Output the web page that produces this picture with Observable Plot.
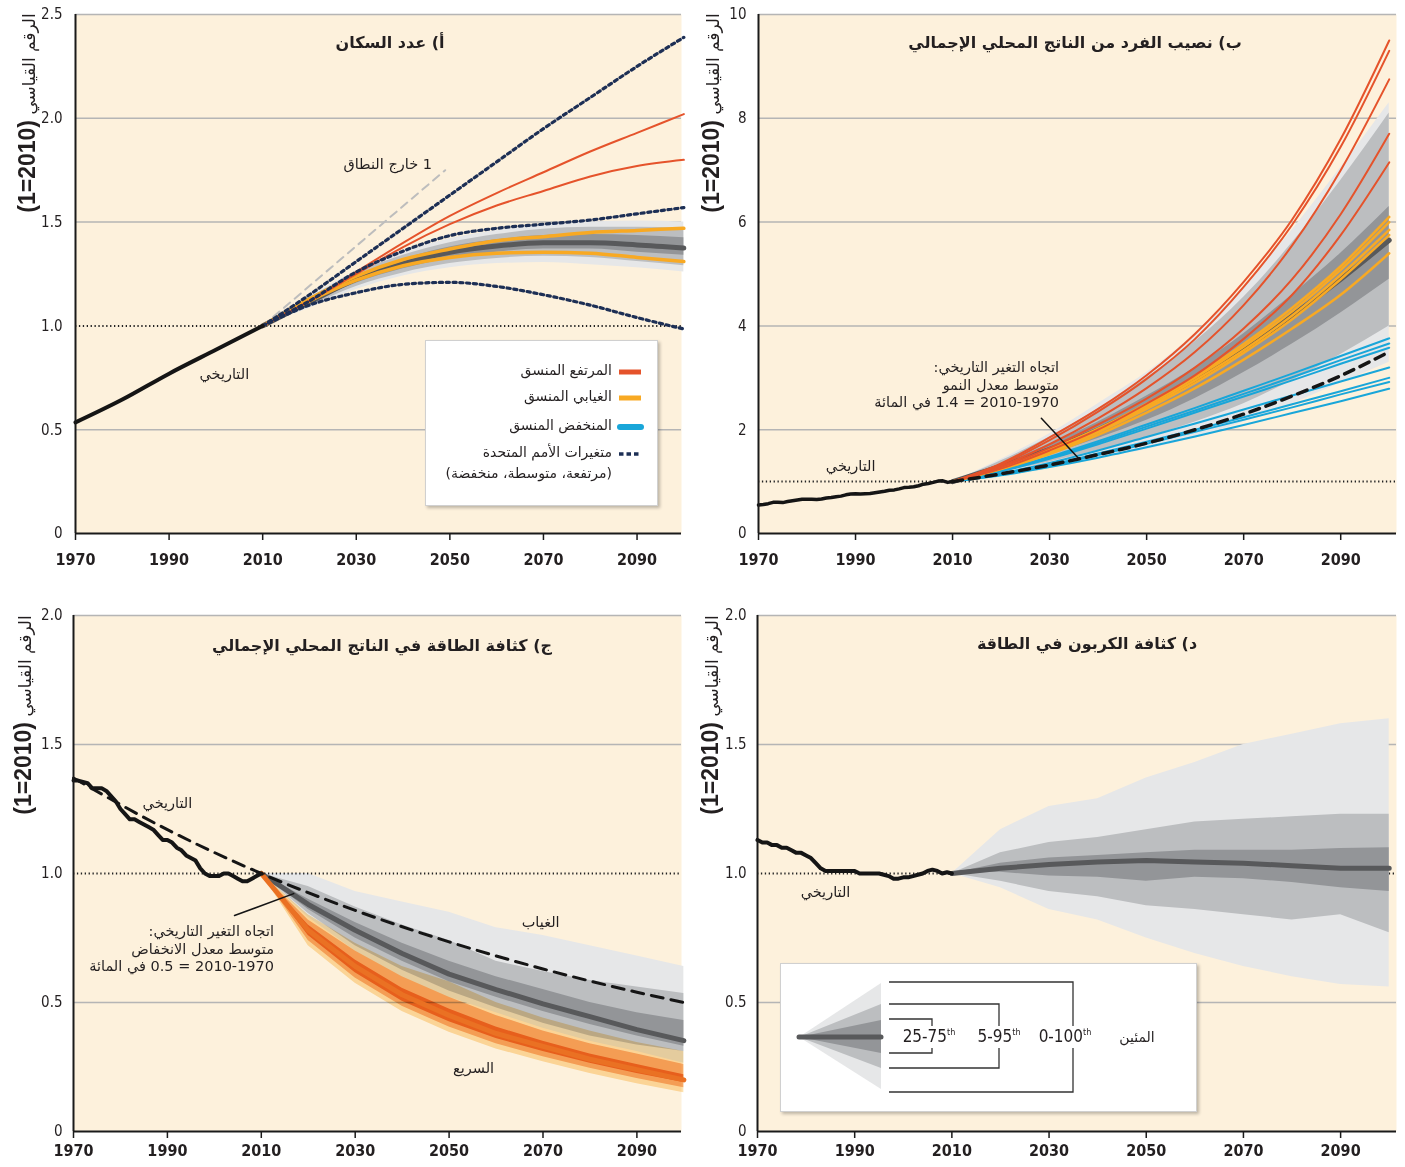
<!DOCTYPE html>
<html lang="ar">
<head>
<meta charset="utf-8">
<script src="https://cdn.jsdelivr.net/npm/d3@7"></script>
<script src="https://cdn.jsdelivr.net/npm/@observablehq/plot@0.6"></script>
<style>
  body { margin:0; background:#fff; }
  #root { position:relative; width:1405px; height:1167px; overflow:hidden; background:#fff; }
  #root svg.panel { position:absolute; overflow:visible; background:transparent; }
  .panel text { fill:#231f20; }
  .panel g[aria-label="x-axis tick label"] { font-family:"Liberation Sans Narrow","DejaVu Sans Condensed",sans-serif; font-size:16px; font-weight:bold; }
  .panel g[aria-label="y-axis tick label"] { font-family:"Liberation Sans Narrow","DejaVu Sans Condensed",sans-serif; font-size:15px; }
  .ar { font-family:"DejaVu Sans",sans-serif; color:#231f20; position:absolute; white-space:nowrap; }
  .title { font-weight:bold; font-size:16px; transform:translate(-50%,-50%); }
  .ylab { transform:translate(-50%,-50%) rotate(-90deg); font-size:17px; direction:ltr; }
  .ylab b { font-family:"Liberation Sans","DejaVu Sans",sans-serif; font-size:23px; }
  .box { position:absolute; background:#fff; border:1px solid #d0d0d0; box-shadow:2px 2px 3px rgba(0,0,0,0.25); }
  .note { font-size:14.5px; line-height:17.5px; text-align:right; direction:rtl; }
</style>
</head>
<body>
<div id="root"></div>
<script>
// ---------- shared ----------
const YEARS = [2010, 2020, 2030, 2040, 2050, 2060, 2070, 2080, 2090, 2100];
const XTICKS = [1970, 1990, 2010, 2030, 2050, 2070, 2090];

// ---------- panel a: population ----------
const aTitle = "أ) عدد السكان";
const aHistYears = [1970, 1980, 1990, 2000, 2010];
const aHist = [0.535, 0.645, 0.77, 0.885, 1.0];
const aP0   = [1, 1.085, 1.175, 1.24, 1.28, 1.30, 1.305, 1.295, 1.28, 1.26];
const aP5   = [1, 1.095, 1.19, 1.255, 1.30, 1.325, 1.335, 1.33, 1.31, 1.29];
const aP25  = [1, 1.105, 1.205, 1.275, 1.325, 1.355, 1.37, 1.37, 1.355, 1.34];
const aMed  = [1, 1.115, 1.225, 1.30, 1.355, 1.385, 1.40, 1.40, 1.39, 1.375];
const aP75  = [1, 1.125, 1.24, 1.32, 1.38, 1.415, 1.435, 1.44, 1.435, 1.425];
const aP95  = [1, 1.135, 1.255, 1.34, 1.40, 1.44, 1.465, 1.475, 1.475, 1.47];
const aP100 = [1, 1.14, 1.265, 1.355, 1.42, 1.46, 1.485, 1.50, 1.505, 1.50];
const aRed1 = [1, 1.12, 1.26, 1.40, 1.53, 1.64, 1.74, 1.84, 1.93, 2.02];
const aRed2 = [1, 1.12, 1.25, 1.38, 1.49, 1.58, 1.65, 1.72, 1.77, 1.80];
const aOra1 = [1, 1.13, 1.24, 1.32, 1.37, 1.41, 1.43, 1.45, 1.46, 1.47];
const aOra2 = [1, 1.12, 1.22, 1.29, 1.33, 1.35, 1.355, 1.35, 1.33, 1.31];
const aUNhigh = [1, 1.15, 1.31, 1.47, 1.63, 1.79, 1.95, 2.10, 2.25, 2.39];
const aUNmed  = [1, 1.12, 1.26, 1.36, 1.435, 1.47, 1.49, 1.51, 1.54, 1.57];
const aUNlow  = [1, 1.10, 1.16, 1.20, 1.21, 1.19, 1.15, 1.10, 1.04, 0.985];
const aOutYears = [2010, 2049];
const aOut = [1.0, 1.75];
const aOutLabel = "1 خارج النطاق";
const histLabel = "التاريخي";
const aLegendLabels = ["المرتفع المنسق", "الغيابي المنسق", "المنخفض المنسق", "متغيرات الأمم المتحدة", "(مرتفعة، متوسطة، منخفضة)"];

// ---------- panel b: GDP per capita ----------
const bTitle = "ب) نصيب الفرد من الناتج المحلي الإجمالي";
const bHistYears = d3.range(1970, 2011);
const bHist = [0.55,0.56,0.575,0.60,0.60,0.595,0.615,0.63,0.645,0.66,0.66,0.66,0.655,0.665,0.685,0.695,0.71,0.72,0.745,0.76,0.765,0.76,0.765,0.77,0.785,0.80,0.815,0.835,0.84,0.86,0.885,0.89,0.90,0.92,0.95,0.965,0.985,1.01,1.015,0.985,1.0];
const bP0   = [1, 1.12, 1.28, 1.45, 1.62, 1.85, 2.15, 2.5, 2.9, 3.3];
const bP5   = [1, 1.18, 1.38, 1.6, 1.85, 2.15, 2.5, 2.95, 3.45, 4.0];
const bP25  = [1, 1.25, 1.52, 1.83, 2.18, 2.6, 3.1, 3.65, 4.25, 4.9];
const bMed  = [1, 1.3, 1.62, 2.0, 2.45, 2.95, 3.55, 4.2, 4.9, 5.65];
const bP75  = [1, 1.34, 1.72, 2.15, 2.65, 3.2, 3.85, 4.6, 5.4, 6.3];
const bP95  = [1, 1.40, 1.86, 2.4, 3.0, 3.7, 4.55, 5.6, 6.8, 8.1];
const bP100 = [1, 1.43, 1.92, 2.5, 3.1, 3.85, 4.75, 5.85, 7.05, 8.3];
const bReds = [
  [1, 1.35, 1.85, 2.4, 3.05, 3.85, 4.85, 6.05, 7.6, 9.5],
  [1, 1.33, 1.8, 2.35, 2.98, 3.75, 4.75, 5.95, 7.45, 9.3],
  [1, 1.3, 1.72, 2.22, 2.8, 3.5, 4.4, 5.55, 7.0, 8.75],
  [1, 1.28, 1.65, 2.1, 2.6, 3.2, 3.95, 4.9, 6.15, 7.7],
  [1, 1.25, 1.6, 2.0, 2.5, 3.05, 3.75, 4.6, 5.75, 7.15]
];
const bOranges = [
  [1, 1.28, 1.62, 2.02, 2.5, 3.03, 3.65, 4.35, 5.15, 6.1],
  [1, 1.27, 1.6, 2.0, 2.47, 3.0, 3.6, 4.28, 5.08, 6.0],
  [1, 1.26, 1.58, 1.97, 2.43, 2.95, 3.53, 4.2, 4.98, 5.85],
  [1, 1.25, 1.56, 1.95, 2.4, 2.9, 3.48, 4.13, 4.9, 5.75],
  [1, 1.24, 1.53, 1.9, 2.33, 2.8, 3.35, 3.95, 4.6, 5.4]
];
const bBlues = [
  [1, 1.22, 1.48, 1.78, 2.1, 2.42, 2.75, 3.08, 3.42, 3.76],
  [1, 1.21, 1.46, 1.75, 2.06, 2.37, 2.69, 3.01, 3.34, 3.66],
  [1, 1.2, 1.44, 1.72, 2.02, 2.33, 2.64, 2.95, 3.27, 3.58],
  [1, 1.16, 1.36, 1.6, 1.86, 2.12, 2.39, 2.66, 2.93, 3.2],
  [1, 1.14, 1.32, 1.54, 1.77, 2.0, 2.24, 2.49, 2.74, 3.0],
  [1, 1.13, 1.3, 1.51, 1.73, 1.96, 2.19, 2.43, 2.68, 2.92],
  [1, 1.12, 1.28, 1.46, 1.66, 1.87, 2.09, 2.32, 2.55, 2.79]
];
const bTrend = [1, 1.149, 1.32, 1.52, 1.74, 2.0, 2.30, 2.65, 3.04, 3.5];
const bLeader = [[2028.3, 2.22], [2036, 1.445]];
const bNote = ["اتجاه التغير التاريخي:", "متوسط معدل النمو", "2010-1970 = 1.4 في المائة"];

// ---------- panel c: energy intensity of GDP ----------
const cTitle = "ج) كثافة الطاقة في الناتج المحلي الإجمالي";
const cHistYears = d3.range(1970, 2011);
const cHist = [1.36,1.36,1.355,1.35,1.33,1.33,1.33,1.32,1.30,1.28,1.25,1.23,1.21,1.21,1.20,1.19,1.18,1.17,1.15,1.13,1.13,1.12,1.10,1.09,1.07,1.06,1.05,1.02,1.0,0.99,0.99,0.99,1.0,1.0,0.99,0.98,0.97,0.97,0.98,0.99,1.0];
const cTrendYears = [1970, 1990, 2010, 2030, 2050, 2070, 2090, 2100];
const cTrend = [1.37, 1.17, 1.0, 0.857, 0.735, 0.63, 0.54, 0.50];
const cGP0   = [1, 0.83, 0.70, 0.60, 0.52, 0.46, 0.40, 0.35, 0.31, 0.265];
const cGP5   = [1, 0.845, 0.72, 0.625, 0.545, 0.48, 0.42, 0.37, 0.335, 0.31];
const cGP25  = [1, 0.86, 0.75, 0.66, 0.58, 0.52, 0.465, 0.415, 0.37, 0.33];
const cGMed  = [1, 0.88, 0.78, 0.69, 0.61, 0.55, 0.495, 0.445, 0.395, 0.352];
const cGP75  = [1, 0.90, 0.81, 0.73, 0.66, 0.60, 0.55, 0.50, 0.46, 0.43];
const cGP95  = [1, 0.95, 0.87, 0.80, 0.74, 0.66, 0.62, 0.585, 0.56, 0.535];
const cGP100 = [1, 1.0, 0.93, 0.89, 0.85, 0.79, 0.76, 0.72, 0.68, 0.64];
const cOP0   = [1, 0.72, 0.575, 0.465, 0.385, 0.32, 0.27, 0.225, 0.185, 0.15];
const cOP5   = [1, 0.74, 0.595, 0.485, 0.405, 0.34, 0.29, 0.245, 0.205, 0.17];
const cOP25  = [1, 0.76, 0.615, 0.505, 0.425, 0.36, 0.31, 0.265, 0.225, 0.19];
const cOMed  = [1, 0.78, 0.64, 0.53, 0.45, 0.38, 0.33, 0.28, 0.24, 0.20];
const cOP75  = [1, 0.80, 0.665, 0.555, 0.475, 0.405, 0.35, 0.30, 0.26, 0.22];
const cOP95  = [1, 0.82, 0.70, 0.60, 0.52, 0.45, 0.39, 0.34, 0.30, 0.26];
const cOP100 = [1, 0.84, 0.73, 0.64, 0.58, 0.50, 0.44, 0.39, 0.345, 0.31];
const cLeader = [[2004.3, 0.837], [2016.9, 0.922]];
const cNote = ["اتجاه التغير التاريخي:", "متوسط معدل الانخفاض", "2010-1970 = 0.5 في المائة"];
const cBaseLabel = "الغياب";
const cFastLabel = "السريع";

// ---------- panel d: carbon intensity of energy ----------
const dTitle = "د) كثافة الكربون في الطاقة";
const dHistYears = d3.range(1970, 2011);
const dHist = [1.13,1.12,1.12,1.11,1.11,1.10,1.10,1.09,1.08,1.08,1.07,1.06,1.04,1.02,1.01,1.01,1.01,1.01,1.01,1.01,1.01,1.0,1.0,1.0,1.0,1.0,0.995,0.99,0.98,0.98,0.985,0.985,0.99,0.995,1.0,1.01,1.015,1.01,1.0,1.005,1.0];
const dP0   = [1, 0.945, 0.86, 0.82, 0.75, 0.69, 0.64, 0.60, 0.57, 0.56];
const dP5   = [1, 0.97, 0.93, 0.91, 0.875, 0.86, 0.84, 0.82, 0.84, 0.77];
const dP25  = [1, 1.005, 0.99, 0.985, 0.97, 0.985, 0.98, 0.965, 0.945, 0.93];
const dMed  = [1, 1.02, 1.035, 1.045, 1.05, 1.045, 1.04, 1.03, 1.02, 1.02];
const dP75  = [1, 1.04, 1.06, 1.07, 1.08, 1.09, 1.09, 1.09, 1.097, 1.10];
const dP95  = [1, 1.08, 1.12, 1.14, 1.17, 1.20, 1.21, 1.22, 1.23, 1.23];
const dP100 = [1, 1.17, 1.26, 1.29, 1.37, 1.43, 1.50, 1.54, 1.58, 1.60];
const dLegendLabels = ["25-75", "5-95", "0-100"];
const dLegendUnit = "المئين";

// ---------- colours ----------
const BG = "#fdf1dc", GRID = "#b5b5b5";
const G0 = "#e6e7e8", G5 = "#bcbec0", G25 = "#939598", GMED = "#58595b";
const O0 = "#fde1ae", O5 = "#f8bd8f", O25 = "#f29a55", OMED = "#ea7123";
const RED = "#e5532b", ORANGE = "#f8a923", BLUE = "#19a6d9", NAVY = "#1d2f55";

// ---------- helpers ----------
const band = (lo, hi, years = YEARS) => years.map((year, i) => ({year, lo: lo[i], hi: hi[i]}));
const series = (vals, years = YEARS) => years.map((year, i) => ({year, v: vals[i]}));
const multi = (list, years = YEARS) => list.flatMap((vals, k) => years.map((year, i) => ({k, year, v: vals[i]})));
const fmt1 = d => d === 0 ? "0" : d.toFixed(1);

function axes(yTicks, yFmt, yPad, xPad) {
  return [
    Plot.ruleX([1970], {stroke: "#1a1a1a", strokeWidth: 2}),
    Plot.ruleY([0], {stroke: "#1a1a1a", strokeWidth: 2}),
    Plot.axisX({ticks: XTICKS, tickFormat: d => String(d), tickSize: 7, tickPadding: xPad, stroke: "#1a1a1a", strokeWidth: 1.5, label: null}),
    Plot.axisY({ticks: yTicks, tickFormat: yFmt, tickSize: 0, tickPadding: yPad, label: null})
  ];
}
const root = document.getElementById("root");
function place(svg, left, top) {
  svg.classList.add("panel");
  svg.style.left = left + "px";
  svg.style.top = top + "px";
  root.appendChild(svg);
}
function html(cls, left, top, content, extra = {}) {
  const d = document.createElement("div");
  d.className = cls;
  d.style.left = left + "px";
  d.style.top = top + "px";
  Object.assign(d.style, extra);
  if (content instanceof Node) d.appendChild(content); else d.innerHTML = content;
  root.appendChild(d);
  return d;
}
const dotted1 = Plot.ruleY([1], {stroke: "#222", strokeWidth: 2, strokeDasharray: "1.3,2.6"});
const arText = {fontFamily: "DejaVu Sans, sans-serif", fontSize: 14.5, fill: "#231f20"};
const unStyle = {stroke: NAVY, strokeWidth: 3.2, strokeDasharray: "3.2,3.6"};

// ---------- panel a ----------
place(Plot.plot({
  width: 700, height: 578, marginLeft: 75, marginRight: 19, marginTop: 14, marginBottom: 45,
  x: {domain: [1970, 2099.5]}, y: {domain: [0, 2.5]},
  marks: [
    Plot.frame({fill: BG, stroke: "none"}),
    Plot.gridY([0.5, 1.5, 2, 2.5], {stroke: GRID, strokeOpacity: 1, strokeWidth: 1.5}),
    dotted1,
    Plot.areaY(band(aP0, aP100), {x: "year", y1: "lo", y2: "hi", fill: G0, curve: "monotone-x"}),
    Plot.areaY(band(aP5, aP95), {x: "year", y1: "lo", y2: "hi", fill: G5, curve: "monotone-x"}),
    Plot.areaY(band(aP25, aP75), {x: "year", y1: "lo", y2: "hi", fill: G25, curve: "monotone-x"}),
    Plot.line(series(aMed), {x: "year", y: "v", stroke: GMED, strokeWidth: 5, curve: "monotone-x"}),
    Plot.line(series(aOut, aOutYears), {x: "year", y: "v", stroke: "#bdbdbd", strokeWidth: 2, strokeDasharray: "8,6"}),
    Plot.line(multi([aOra1, aOra2]), {x: "year", y: "v", z: "k", stroke: ORANGE, strokeWidth: 3.5, curve: "monotone-x"}),
    Plot.line(multi([aRed1, aRed2]), {x: "year", y: "v", z: "k", stroke: RED, strokeWidth: 2, curve: "monotone-x"}),
    Plot.line(multi([aUNhigh, aUNmed, aUNlow]), {x: "year", y: "v", z: "k", ...unStyle, curve: "monotone-x"}),
    Plot.line(series(aHist, aHistYears), {x: "year", y: "v", stroke: "#151515", strokeWidth: 4, curve: "monotone-x"}),
    Plot.text([histLabel], {x: 2001.8, y: 0.766, text: d => d, ...arText}),
    ...axes([0, 0.5, 1, 1.5, 2, 2.5], fmt1, 13, 13)
  ]
}), 0, 0);

// ---------- panel b ----------
place(Plot.plot({
  width: 715, height: 578, marginLeft: 68, marginRight: 9, marginTop: 14, marginBottom: 45,
  x: {domain: [1970, 2101.5]}, y: {domain: [0, 10]},
  marks: [
    Plot.frame({fill: BG, stroke: "none"}),
    Plot.gridY([2, 4, 6, 8, 10], {stroke: GRID, strokeOpacity: 1, strokeWidth: 1.5}),
    dotted1,
    Plot.areaY(band(bP0, bP100), {x: "year", y1: "lo", y2: "hi", fill: G0, curve: "monotone-x"}),
    Plot.areaY(band(bP5, bP95), {x: "year", y1: "lo", y2: "hi", fill: G5, curve: "monotone-x"}),
    Plot.areaY(band(bP25, bP75), {x: "year", y1: "lo", y2: "hi", fill: G25, curve: "monotone-x"}),
    Plot.line(series(bMed), {x: "year", y: "v", stroke: GMED, strokeWidth: 5, curve: "monotone-x"}),
    Plot.line(multi(bBlues), {x: "year", y: "v", z: "k", stroke: BLUE, strokeWidth: 2, curve: "monotone-x"}),
    Plot.line(multi(bOranges), {x: "year", y: "v", z: "k", stroke: ORANGE, strokeWidth: 2.5, curve: "monotone-x"}),
    Plot.line(multi(bReds), {x: "year", y: "v", z: "k", stroke: RED, strokeWidth: 2, curve: "monotone-x"}),
    Plot.line(series(bTrend), {x: "year", y: "v", stroke: "#151515", strokeWidth: 3.5, strokeDasharray: "10,7", curve: "monotone-x"}),
    Plot.line(bLeader, {x: d => d[0], y: d => d[1], stroke: "#151515", strokeWidth: 1.5}),
    Plot.line(series(bHist, bHistYears), {x: "year", y: "v", stroke: "#151515", strokeWidth: 3.5}),
    Plot.text([histLabel], {x: 1989, y: 1.29, text: d => d, ...arText}),
    ...axes([0, 2, 4, 6, 8, 10], d => String(d), 12, 13)
  ]
}), 690, 0);

// ---------- panel c ----------
const mult = {mixBlendMode: "multiply"};
place(Plot.plot({
  width: 700, height: 567, marginLeft: 73, marginRight: 19, marginTop: 15, marginBottom: 36,
  x: {domain: [1970, 2099.5]}, y: {domain: [0, 2]},
  marks: [
    Plot.frame({fill: BG, stroke: "none"}),
    Plot.gridY([0.5, 1.5, 2], {stroke: GRID, strokeOpacity: 1, strokeWidth: 1.5}),
    Plot.areaY(band(cGP0, cGP100), {x: "year", y1: "lo", y2: "hi", fill: G0}),
    Plot.areaY(band(cGP5, cGP95), {x: "year", y1: "lo", y2: "hi", fill: G5}),
    Plot.areaY(band(cGP25, cGP75), {x: "year", y1: "lo", y2: "hi", fill: G25}),
    Plot.areaY(band(cOP0, cOP100), {x: "year", y1: "lo", y2: "hi", fill: O0, ...mult}),
    Plot.areaY(band(cOP5, cOP95), {x: "year", y1: "lo", y2: "hi", fill: O5, ...mult}),
    Plot.areaY(band(cOP25, cOP75), {x: "year", y1: "lo", y2: "hi", fill: O25, ...mult}),
    Plot.line(series(cGMed), {x: "year", y: "v", stroke: GMED, strokeWidth: 5}),
    Plot.line(series(cOMed), {x: "year", y: "v", stroke: OMED, strokeWidth: 5}),
    dotted1,
    Plot.line(series(cTrend, cTrendYears), {x: "year", y: "v", stroke: "#151515", strokeWidth: 3, strokeDasharray: "12,8", curve: "monotone-x"}),
    Plot.line(cLeader, {x: d => d[0], y: d => d[1], stroke: "#151515", strokeWidth: 1.5}),
    Plot.line(series(cHist, cHistYears), {x: "year", y: "v", stroke: "#151515", strokeWidth: 4}),
    Plot.text([histLabel], {x: 1990, y: 1.27, text: d => d, ...arText}),
    Plot.text([cBaseLabel], {x: 2069.5, y: 0.81, text: d => d, ...arText}),
    Plot.text([cFastLabel], {x: 2055.2, y: 0.244, text: d => d, ...arText}),
    ...axes([0, 0.5, 1, 1.5, 2], fmt1, 11, 6)
  ]
}), 0, 600);

// ---------- panel d ----------
place(Plot.plot({
  width: 715, height: 567, marginLeft: 67, marginRight: 9, marginTop: 15, marginBottom: 36,
  x: {domain: [1970, 2101.5]}, y: {domain: [0, 2]},
  marks: [
    Plot.frame({fill: BG, stroke: "none"}),
    Plot.gridY([0.5, 1.5, 2], {stroke: GRID, strokeOpacity: 1, strokeWidth: 1.5}),
    dotted1,
    Plot.areaY(band(dP0, dP100), {x: "year", y1: "lo", y2: "hi", fill: G0}),
    Plot.areaY(band(dP5, dP95), {x: "year", y1: "lo", y2: "hi", fill: G5}),
    Plot.areaY(band(dP25, dP75), {x: "year", y1: "lo", y2: "hi", fill: G25}),
    Plot.line(series(dMed), {x: "year", y: "v", stroke: GMED, strokeWidth: 5}),
    Plot.line(series(dHist, dHistYears), {x: "year", y: "v", stroke: "#151515", strokeWidth: 4}),
    Plot.text([histLabel], {x: 1984, y: 0.926, text: d => d, ...arText}),
    ...axes([0, 0.5, 1, 1.5, 2], fmt1, 11, 6)
  ]
}), 690, 600);

// ---------- titles & y labels ----------
html("ar title", 390, 42, aTitle, {direction: "rtl"});
html("ar title", 1075, 42, bTitle, {direction: "rtl"});
html("ar title", 382, 645, cTitle, {direction: "rtl"});
html("ar title", 1087, 643, dTitle, {direction: "rtl"});
const yLabel = "<b>(1=2010)</b>&nbsp;الرقم القياسي";
html("ar ylab", 27, 113, yLabel);
html("ar ylab", 711, 113, yLabel);
html("ar ylab", 23, 715, yLabel);
html("ar ylab", 710, 715, yLabel);

// ---------- annotations ----------
html("ar note", 0, 156, aOutLabel, {width: "432px"});
html("ar note", 0, 359, bNote.join("<br>"), {width: "1059px"});
html("ar note", 0, 923, cNote.join("<br>"), {width: "274px"});

// ---------- legend a ----------
const la = html("box", 425, 340, "", {width: "231px", height: "164px"});
const laRows = [31, 57, 86, 113, 134];
aLegendLabels.forEach((t, i) => {
  const d = document.createElement("div");
  d.className = "ar";
  Object.assign(d.style, {right: "45px", top: (laRows[i] - 10) + "px", fontSize: "14px", direction: "rtl"});
  d.textContent = t;
  la.appendChild(d);
});
const sw = d3.create("svg").attr("width", 231).attr("height", 164).style("position", "absolute").style("left", 0).style("top", 0);
sw.append("line").attr("x1", 193).attr("x2", 215).attr("y1", 31).attr("y2", 31).attr("stroke", RED).attr("stroke-width", 5);
sw.append("line").attr("x1", 193).attr("x2", 215).attr("y1", 57).attr("y2", 57).attr("stroke", ORANGE).attr("stroke-width", 5);
sw.append("line").attr("x1", 194).attr("x2", 215).attr("y1", 86).attr("y2", 86).attr("stroke", BLUE).attr("stroke-width", 6).attr("stroke-linecap", "round");
sw.append("line").attr("x1", 193).attr("x2", 214).attr("y1", 113).attr("y2", 113).attr("stroke", NAVY).attr("stroke-width", 3.5).attr("stroke-dasharray", "4.5,3");
la.appendChild(sw.node());

// ---------- legend d ----------
const ld = html("box", 780, 963, "", {width: "415px", height: "147px"});
const lg = d3.create("svg").attr("width", 415).attr("height", 147).style("position", "absolute").style("left", 0).style("top", 0);
const fan = [[G0, 19, 125], [G5, 40, 104], [G25, 56, 89]];
fan.forEach(([c, t, b]) => lg.append("path").attr("d", `M18,73L100,${t}L100,${b}Z`).attr("fill", c));
lg.append("line").attr("x1", 18).attr("x2", 100).attr("y1", 73).attr("y2", 73).attr("stroke", GMED).attr("stroke-width", 5).attr("stroke-linecap", "round");
const brackets = [[18, 128, 292], [40, 104, 218], [55, 89, 151]];
brackets.forEach(([t, b, r]) => {
  lg.append("path").attr("d", `M108,${t}H${r}V62M108,${b}H${r}V84`).attr("fill", "none").attr("stroke", "#333").attr("stroke-width", 1.3);
});
const lx = [148, 218, 284];
dLegendLabels.forEach((t, i) => {
  const tx = lg.append("text").attr("x", lx[i]).attr("y", 78).attr("text-anchor", "middle")
    .attr("font-family", "Liberation Sans Narrow, DejaVu Sans Condensed, sans-serif").attr("font-size", 17).attr("fill", "#231f20");
  tx.append("tspan").text(t);
  tx.append("tspan").attr("font-size", 9).attr("dy", -7).text("th");
});
lg.append("text").attr("x", 356).attr("y", 78).attr("text-anchor", "middle").attr("font-family", "DejaVu Sans, sans-serif").attr("font-size", 14).attr("fill", "#231f20").text(dLegendUnit);
ld.appendChild(lg.node());
</script>
</body>
</html>
